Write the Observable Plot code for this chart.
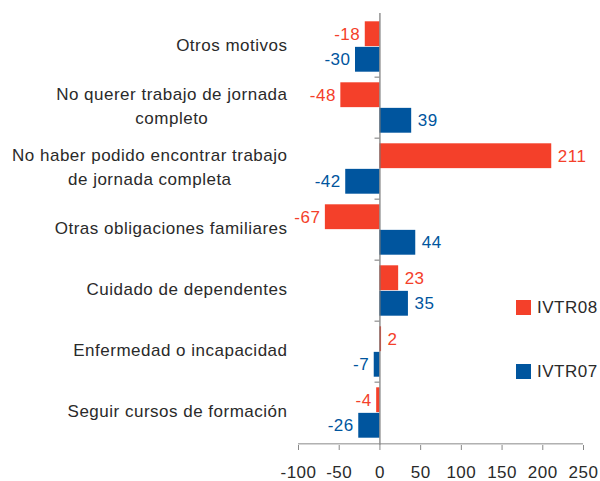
<!DOCTYPE html>
<html>
<head>
<meta charset="utf-8">
<script src="https://cdn.jsdelivr.net/npm/d3@7"></script>
<script src="https://cdn.jsdelivr.net/npm/@observablehq/plot@0.6"></script>
<style>
  html, body { margin: 0; padding: 0; background: #fff; }
  #wrap { position: relative; width: 600px; height: 481px; font-family: "Liberation Sans", Arial, sans-serif; }
  #wrap svg { letter-spacing: 0.5px; }
  .leg { position: absolute; left: 516px; display: flex; align-items: center; font-size: 17px; letter-spacing: 0.5px; color: #2a2a2a; line-height: 15px; }
  .leg span.sw { display: inline-block; width: 15px; height: 15px; margin-right: 6px; }
</style>
</head>
<body>
<div id="wrap"></div>
<script>
const categories = [
  "Otros motivos",
  "No querer trabajo de jornada\ncompleto",
  "No haber podido encontrar trabajo\nde jornada completa",
  "Otras obligaciones familiares",
  "Cuidado de dependentes",
  "Enfermedad o incapacidad",
  "Seguir cursos de formación"
];
const seriesNames = ["IVTR08", "IVTR07"];
const ivtr08 = [-18, -48, 211, -67, 23, 2, -4];
const ivtr07 = [-30, 39, -42, 44, 35, -7, -26];
const xTicks = [-100, -50, 0, 50, 100, 150, 200, 250];
const colors = {IVTR08: "#F4402A", IVTR07: "#00559E"};

const W = 600, H = 481, mt = 13, mb = 36, ml = 298, mr = 17;
const band = (H - mt - mb) / categories.length;
const half = band / 2;
const outer = 5.3;
const barMid = (half - outer) / 2;
const fs = 17, ls = 0.5, lineGap = 23.3, labelPad = 11;
const textColor = "#2a2a2a";

const d08 = categories.map((c, i) => ({cat: c, v: ivtr08[i], s: "IVTR08"}));
const d07 = categories.map((c, i) => ({cat: c, v: ivtr07[i], s: "IVTR07"}));

const font = "Liberation Sans, Arial, sans-serif";
const ctx = document.createElement("canvas").getContext("2d");
ctx.font = `${fs}px "Liberation Sans", Arial, sans-serif`;
const measure = s => ctx.measureText(s).width + s.length * ls;

function valueLabels(data, dy, color) {
  return [
    Plot.text(data.filter(d => d.v < 0), {x: "v", y: "cat", text: d => String(d.v), dy, dx: -5,
      textAnchor: "end", fill: color, fontSize: fs}),
    Plot.text(data.filter(d => d.v >= 0), {x: "v", y: "cat", text: d => String(d.v), dy, dx: 6,
      textAnchor: "start", fill: color, fontSize: fs})
  ];
}

// Category labels: lines centered within a block that is right-aligned to the axis
const labelMarks = [];
categories.forEach(cat => {
  const lines = cat.split("\n");
  const blockW = Math.max(...lines.map(measure));
  lines.forEach((ln, j) => {
    const off = (j - (lines.length - 1) / 2) * lineGap - 1.4;
    labelMarks.push(Plot.text([cat], {
      y: d => d, text: () => ln, frameAnchor: "left", textAnchor: "middle",
      dx: -labelPad - blockW / 2, dy: off, fill: textColor, fontSize: fs
    }));
  });
});

const chart = Plot.plot({
  width: W, height: H,
  marginTop: mt, marginBottom: mb, marginLeft: ml, marginRight: mr,
  style: {fontFamily: font, fontSize: fs + "px", color: textColor, background: "#fff"},
  x: {domain: [-100, 250], label: null},
  y: {domain: categories, padding: 0, label: null, axis: null},
  marks: [
    Plot.barX(d08, {x: "v", y: "cat", fill: colors.IVTR08, insetTop: outer, insetBottom: half}),
    Plot.barX(d07, {x: "v", y: "cat", fill: colors.IVTR07, insetTop: half, insetBottom: outer}),
    ...valueLabels(d08, -barMid, colors.IVTR08),
    ...valueLabels(d07, barMid, colors.IVTR07),
    Plot.ruleX([0], {stroke: "#777", strokeWidth: 1.2}),
    Plot.ruleY(categories.slice(1), {y: d => d, x1: -6, x2: 0, dy: -half, stroke: "#777"}),
    ...labelMarks,
    Plot.axisX(xTicks, {tickSize: 5, text: null, stroke: "#888", label: null}),
    Plot.axisX(xTicks, {tickSize: 0, tickPadding: 20, fontSize: fs, fill: textColor, label: null, tickFormat: d => String(d)}),
    Plot.ruleY([categories[categories.length - 1]], {y: d => d, x1: -100, x2: 250, dy: half, stroke: "#888"})
  ]
});
const wrap = document.getElementById("wrap");
wrap.appendChild(chart);
const legTops = [300, 364];
seriesNames.forEach((s, i) => {
  const div = document.createElement("div");
  div.className = "leg";
  div.style.top = legTops[i] + "px";
  div.innerHTML = `<span class="sw" style="background:${colors[s]}"></span><span>${s}</span>`;
  wrap.appendChild(div);
});
</script>
</body>
</html>
